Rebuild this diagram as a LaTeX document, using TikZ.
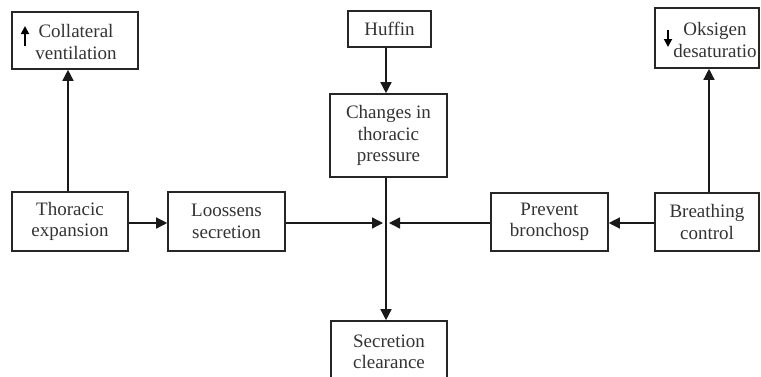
\documentclass[tikz,border=0pt]{standalone}
\usepackage{fontspec}
\setmainfont{Liberation Serif}
\usetikzlibrary{arrows.meta}
\begin{document}
\begin{tikzpicture}[x=1pt,y=-1pt,
  box/.style={draw=black!85,line width=1.6pt,rectangle,inner sep=0pt,align=center,
    font=\fontsize{19}{21.5}\selectfont,text=black!80},
  lbl/.style={inner sep=0pt,align=center,font=\fontsize{19}{21.5}\selectfont,text=black!80},
  arr/.style={line width=1.4pt,draw=black!90,-{Triangle[length=11pt,width=11pt]}},
  sym/.style={line width=1.8pt,draw=black,-{Triangle[length=8pt,width=8pt]}}]
\clip (0,0) rectangle (761,376);
\useasboundingbox (0,0) rectangle (761,376);
% boxes
\node[box,minimum width=126pt,minimum height=57pt] (coll) at (75,40.5) {};
\node[lbl] (collt) at (76,42) {Collateral\\ventilation};
\node[box,minimum width=104pt,minimum height=60pt] (oks) at (707,38) {};
\node[lbl] (okst) at (715,40) {Oksigen\\desaturatio};
\node[box,minimum width=83pt,minimum height=36pt] (huff) at (389.5,29) {Huffin};
\node[box,minimum width=117pt,minimum height=83pt] (chg) at (388.5,135.5) {Changes in\\thoracic\\pressure};
\node[box,minimum width=116pt,minimum height=59pt] (thor) at (70,221.5) {Thoracic\\expansion};
\node[box,minimum width=117pt,minimum height=59pt] (loos) at (226.5,221.5) {Loossens\\secretion};
\node[box,minimum width=117pt,minimum height=58pt] (prev) at (549.5,222) {Prevent\\bronchosp};
\node[box,minimum width=104pt,minimum height=58pt] (brea) at (707,222) {Breathing\\control};
\node[box,minimum width=116pt,minimum height=62pt] (secr) at (389,352) {Secretion\\clearance};
% up / down symbols
\coordinate (ua) at (25,46);
\coordinate (ub) at (25,26);
\coordinate (da) at (668,30);
\coordinate (db) at (668,47);
\draw[sym] (ua) -- (ub);
\draw[sym] (da) -- (db);
% junction
\coordinate (jl) at (383,223);
\coordinate (jr) at (389,223);
% connectors
\draw[arr] (thor.north -| 68,0) -- (coll.south -| 68,0);
\draw[arr] (brea.north -| 709,0) -- (oks.south -| 709,0);
\draw[arr] (huff.south -| 386,0) -- (chg.north -| 386,0);
\draw[arr] (chg.south -| 386,0) -- (secr.north -| 386,0);
\draw[arr] (thor.east |- 0,223) -- (loos.west |- 0,223);
\draw[arr] (loos.east |- 0,223) -- (jl);
\draw[arr] (brea.west |- 0,223) -- (prev.east |- 0,223);
\draw[arr] (prev.west |- 0,223) -- (jr);
\end{tikzpicture}
\end{document}
